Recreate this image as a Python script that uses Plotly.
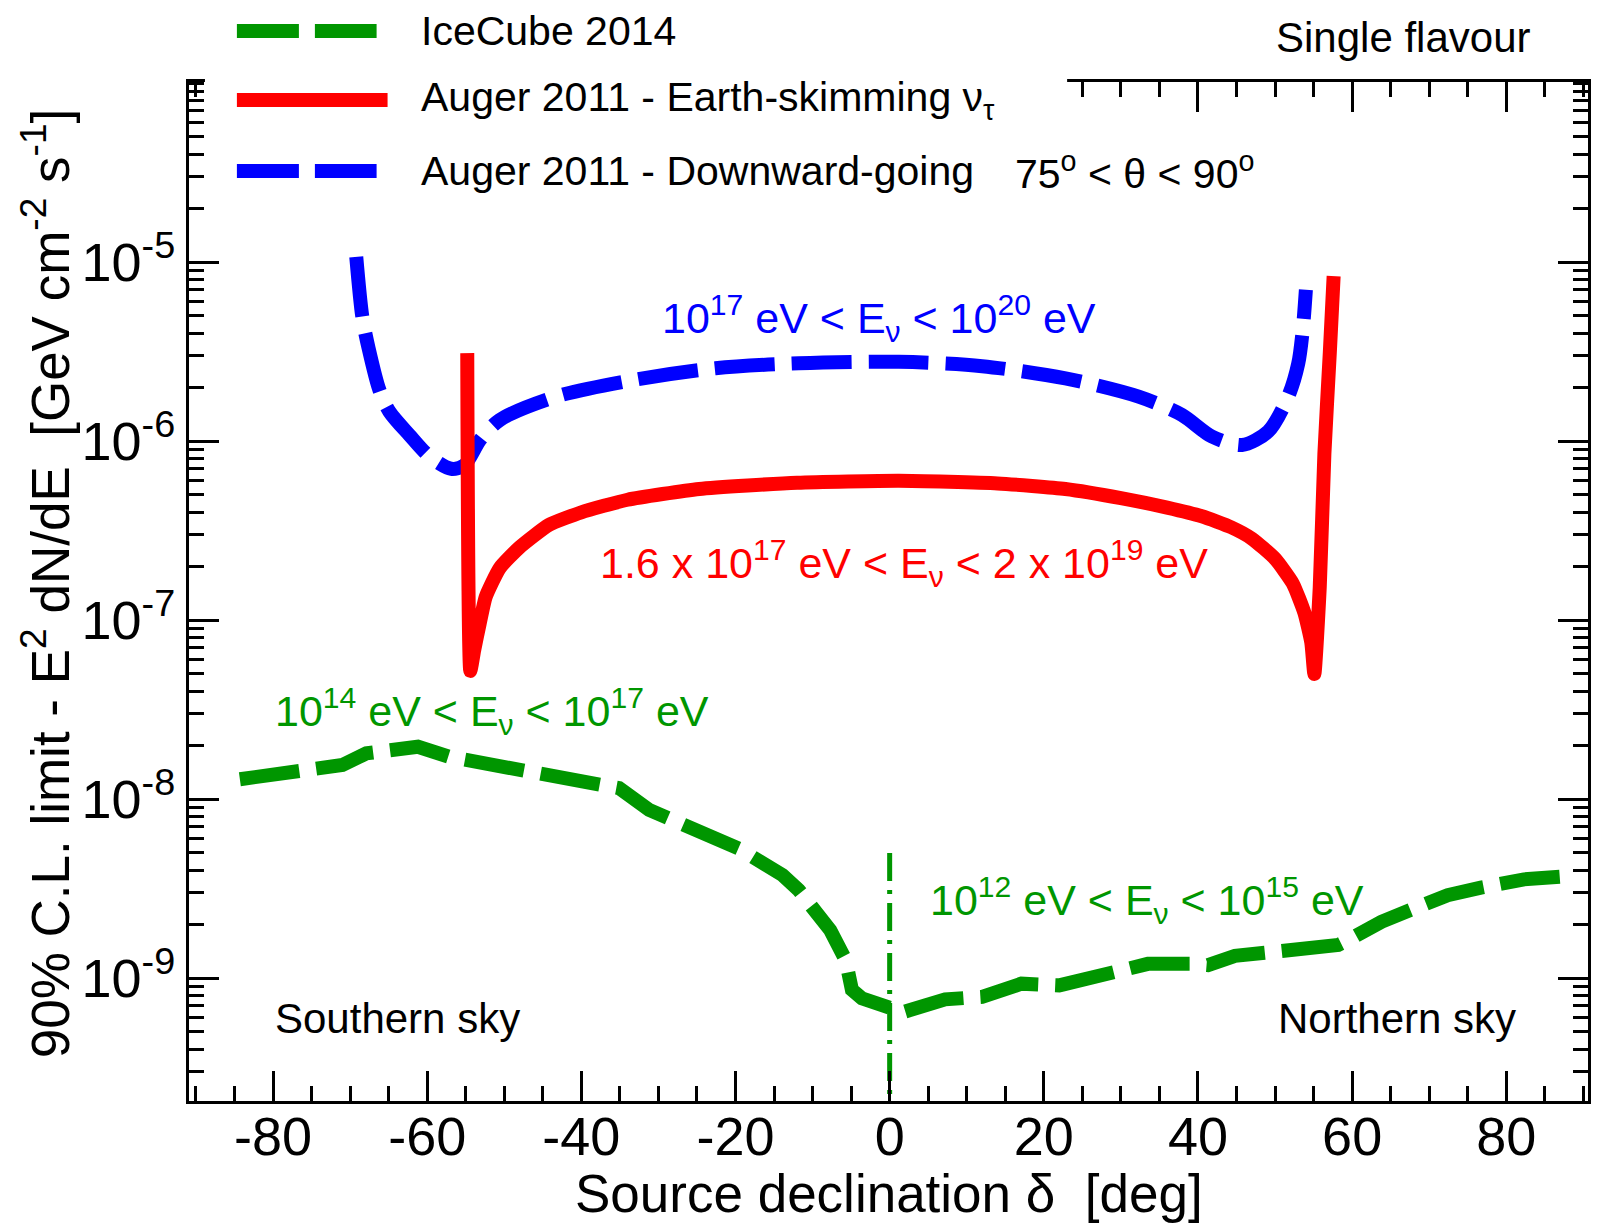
import plotly.graph_objects as go

# ---------------- data ----------------
icecube_dec = [-84.3, -76.6, -71.0, -67.9, -61.2, -57.1, -51.5, -47.0, -40.7, -38.1,
               -35.1, -31.2, -24.7, -19.6, -13.9, -11.8, -7.7, -5.7, -4.9, -3.6,
               0.1, 1.5, 7.2, 9.8, 12.0, 17.1, 19.7, 22.0, 29.2, 33.5,
               39.2, 41.3, 44.8, 48.7, 58.2, 59.5, 63.8, 68.1, 72.4, 76.7,
               82.3, 87.5]
icecube_lim = [1.29e-8, 1.40e-8, 1.55e-8, 1.80e-8, 1.96e-8, 1.72e-8, 1.55e-8, 1.45e-8, 1.28e-8, 1.18e-8,
               1.15e-8, 8.7e-9, 6.7e-9, 5.3e-9, 3.76e-9, 3.1e-9, 1.85e-9, 1.26e-9, 8.6e-10, 7.7e-10,
               6.8e-10, 6.4e-10, 7.6e-10, 7.6e-10, 7.85e-10, 9.3e-10, 9.3e-10, 9.1e-10, 1.08e-9, 1.2e-9,
               1.2e-9, 1.18e-9, 1.33e-9, 1.40e-9, 1.53e-9, 1.63e-9, 2.06e-9, 2.45e-9, 2.9e-9, 3.2e-9,
               3.56e-9, 3.7e-9]

es_dec = [-54.8, -54.4, -53.9, -53.2, -52.4, -50.6, -48.0, -44.2, -40.0, -34.0,
          -24.7, -12.0, 1.2, 14.0, 22.8, 30.0, 36.0, 40.5, 44.3, 47.0,
          50.0, 52.3, 53.8, 54.7, 55.1, 55.8, 56.4, 57.1, 57.6]
es_lim = [3.1e-6, 5.2e-8, 6.8e-8, 9.5e-8, 1.35e-7, 1.95e-7, 2.55e-7, 3.4e-7, 4.0e-7, 4.7e-7,
          5.4e-7, 5.85e-7, 6.0e-7, 5.8e-7, 5.4e-7, 4.8e-7, 4.25e-7, 3.8e-7, 3.3e-7, 2.85e-7,
          2.2e-7, 1.6e-7, 1.1e-7, 7.5e-8, 5.0e-8, 1.53e-7, 8.5e-7, 3.1e-6, 8.35e-6]

dg_dec = [-69.2, -68.4, -67.6, -66.2, -64.9, -62.3, -59.7, -56.9, -55.2, -53.1,
          -50.6, -43.3, -33.4, -22.6, -11.8, 1.2, 12.0, 22.8, 32.3, 37.9,
          41.8, 45.7, 49.1, 51.7, 53.0, 53.6, 54.0]
dg_lim = [1.07e-5, 4.9e-6, 3.3e-6, 1.93e-6, 1.46e-6, 1.08e-6, 8.2e-7, 7.0e-7, 7.3e-7, 1.02e-6,
          1.31e-6, 1.77e-6, 2.19e-6, 2.55e-6, 2.72e-6, 2.77e-6, 2.62e-6, 2.24e-6, 1.77e-6, 1.40e-6,
          1.06e-6, 9.5e-7, 1.13e-6, 1.77e-6, 2.7e-6, 4.2e-6, 7.0e-6]

divider_dec = [0, 0]
divider_lim = [5.0e-9, 1.0e-10]

x_tick_vals = [-80, -60, -40, -20, 0, 20, 40, 60, 80]
x_tick_text = ["-80", "-60", "-40", "-20", "0", "20", "40", "60", "80"]
y_tick_vals = [1e-9, 1e-8, 1e-7, 1e-6, 1e-5]
y_tick_text = ["10<sup>-9</sup>", "10<sup>-8</sup>", "10<sup>-7</sup>", "10<sup>-6</sup>", "10<sup>-5</sup>"]

# ---------------- layout geometry ----------------
W, H = 1599, 1224
L, R, T, B = 189, 1591, 82, 1101
FONT = "Liberation Sans, Arial, Helvetica, sans-serif"
GREEN = "rgb(0,150,0)"
BLUE = "rgb(0,0,255)"
RED = "rgb(255,0,0)"
LW = 14


def px(x):
    return (x - L) / (R - L)


def py(y):
    return (B - y) / (B - T)


fig = go.Figure()
fig.add_trace(go.Scatter(x=icecube_dec, y=icecube_lim, mode="lines",
                         line=dict(color=GREEN, width=LW, dash="60px,17px"), showlegend=False))
fig.add_trace(go.Scatter(x=dg_dec, y=dg_lim, mode="lines",
                         line=dict(color=BLUE, width=LW, dash="60px,17px", shape="spline", smoothing=0.8),
                         showlegend=False))
fig.add_trace(go.Scatter(x=es_dec, y=es_lim, mode="lines",
                         line=dict(color=RED, width=LW, shape="spline", smoothing=0.5), showlegend=False))
fig.add_trace(go.Scatter(x=divider_dec, y=divider_lim, mode="lines",
                         line=dict(color=GREEN, width=5, dash="28px,9px,4px,9px"), showlegend=False))

shapes = [
    dict(type="rect", xref="paper", yref="paper", x0=px(205), x1=px(1069), y0=py(0), y1=py(215),
         fillcolor="white", line=dict(width=0), layer="above"),
    dict(type="line", xref="paper", yref="paper", x0=px(237), x1=px(377), y0=py(31), y1=py(31),
         line=dict(color=GREEN, width=LW, dash="62px,16px"), layer="above"),
    dict(type="line", xref="paper", yref="paper", x0=px(237), x1=px(388), y0=py(100), y1=py(100),
         line=dict(color=RED, width=LW), layer="above"),
    dict(type="line", xref="paper", yref="paper", x0=px(237), x1=px(377), y0=py(171), y1=py(171),
         line=dict(color=BLUE, width=LW, dash="62px,16px"), layer="above"),
]


def ann(text, x, y, size, color="black", xanchor="left", angle=0):
    return dict(text=text, xref="paper", yref="paper", x=px(x), y=py(y), xanchor=xanchor,
                yanchor="middle", showarrow=False, textangle=angle,
                font=dict(family=FONT, size=size, color=color))


annotations = [
    ann("IceCube 2014", 419, 31, 41),
    ann("Auger 2011 - Earth-skimming ν<sub>τ</sub>", 419, 100, 41),
    ann("Auger 2011 - Downward-going", 419, 171, 41),
    ann("75<sup>o</sup> &lt; θ &lt; 90<sup>o</sup>", 1015, 171, 41),
    ann("Single flavour", 1276, 37, 42),
    ann("Southern sky", 273, 1018, 42),
    ann("Northern sky", 1278, 1018, 42),
    ann("10<sup>17</sup> eV &lt; E<sub>ν</sub> &lt; 10<sup>20</sup> eV", 661, 318, 43, BLUE),
    ann("1.6 x 10<sup>17</sup> eV &lt; E<sub>ν</sub> &lt; 2 x 10<sup>19</sup> eV", 599, 563, 43, RED),
    ann("10<sup>14</sup> eV &lt; E<sub>ν</sub> &lt; 10<sup>17</sup> eV", 273, 711, 43, GREEN),
    ann("10<sup>12</sup> eV &lt; E<sub>ν</sub> &lt; 10<sup>15</sup> eV", 930, 900, 43, GREEN),
    ann("Source declination δ  [deg]", 890, 1193, 53, xanchor="center"),
    ann("90% C.L. limit - E<sup>2</sup> dN/dE  [GeV cm<sup>-2</sup> s<sup>-1</sup>]", 45, 583, 53,
        xanchor="center", angle=-90),
]

fig.update_layout(
    width=W, height=H, autosize=False,
    margin=dict(l=L, r=W - R, t=T, b=H - B, pad=0),
    paper_bgcolor="white", plot_bgcolor="white",
    font=dict(family=FONT, color="black"),
    showlegend=False,
    shapes=shapes,
    annotations=annotations,
    xaxis=dict(range=[-90.9, 90.6], tickmode="array", tickvals=x_tick_vals, ticktext=x_tick_text,
               ticks="inside", ticklen=30, tickwidth=3, tickcolor="black",
               showline=True, linewidth=3, linecolor="black", mirror="ticks",
               showgrid=False, zeroline=False, ticklabelstandoff=-14,
               tickfont=dict(family=FONT, size=54, color="black"),
               minor=dict(tickmode="linear", tick0=0, dtick=5, ticks="inside", ticklen=15,
                          tickwidth=3, tickcolor="black", showgrid=False)),
    yaxis=dict(type="log", range=[-9.687, -3.994], tickmode="array",
               tickvals=y_tick_vals, ticktext=y_tick_text,
               ticks="inside", ticklen=30, tickwidth=3, tickcolor="black",
               showline=True, linewidth=3, linecolor="black", mirror="ticks",
               showgrid=False, zeroline=False,
               tickfont=dict(family=FONT, size=54, color="black"),
               minor=dict(tickmode="linear", tick0=0, dtick="D1", ticks="inside", ticklen=15,
                          tickwidth=3, tickcolor="black", showgrid=False)),
)

fig.write_html("out.html")
